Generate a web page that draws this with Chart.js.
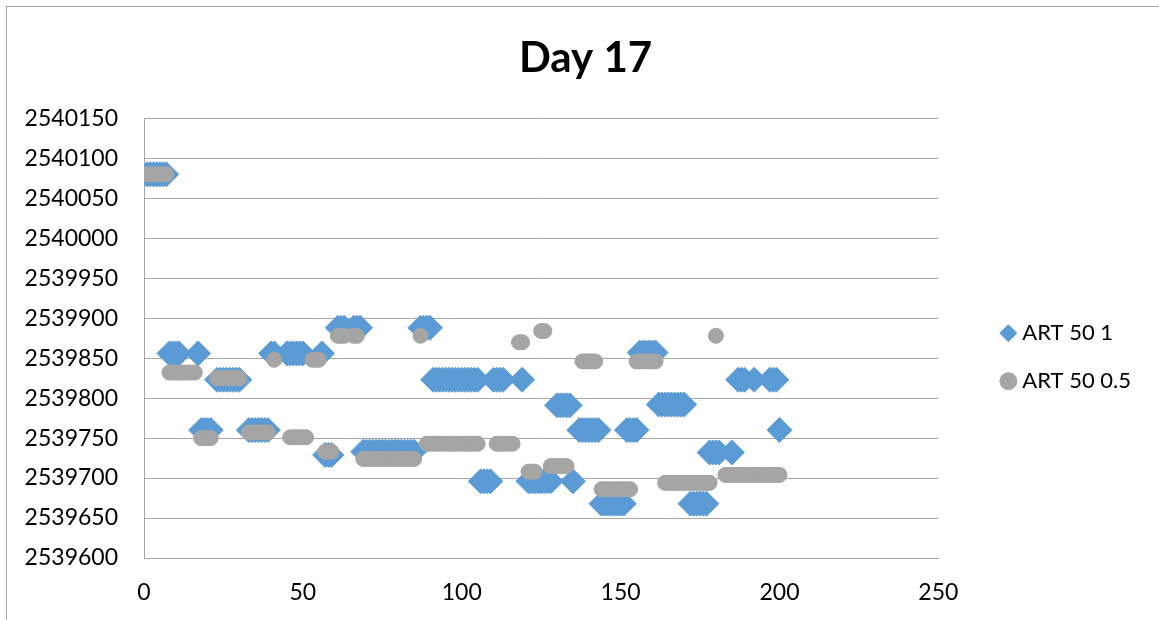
<!DOCTYPE html>
<html>
<head>
<meta charset="utf-8">
<title>Day 17</title>
<script src="https://cdn.jsdelivr.net/npm/chart.js@4.4.1/dist/chart.umd.min.js"></script>
<style>
    html, body { margin: 0; padding: 0; background: #fff; overflow: hidden; }
    #wrap { position: relative; width: 1159px; height: 620px; }
    #frame {
        position: absolute; left: 6px; top: 6px; width: 1160px; height: 620px;
        border-left: 1px solid #a6a6a6; border-top: 1px solid #a6a6a6;
        pointer-events: none;
    }
</style>
</head>
<body>
<div id="wrap">
    <canvas id="chart"></canvas>
    <div id="frame"></div>
</div>
<script>
// Series
const seriesNames = ['ART 50 1', 'ART 50 0.5'];

const blueX = [
    1, 2, 3, 4, 5, 6, 7,
    8, 9, 10, 11,
    17,
    18, 19, 20, 21,
    23, 24, 25, 26, 27, 28, 29, 30,
    33, 34, 35, 36, 37, 38, 39,
    40, 41,
    45, 46, 47, 48, 49, 50,
    56,
    57, 58, 59,
    61, 62, 63, 66, 67, 68,
    69, 70, 71, 72, 73, 74, 75, 76, 77, 78, 79, 80, 81, 82, 83, 84, 85,
    87, 88, 89, 90,
    91, 92, 93, 94, 95, 96, 97, 98, 99, 100, 101, 102, 103, 104, 105,
    106, 107, 108, 109,
    110, 111, 112, 113,
    119,
    121, 122, 123, 124, 125, 126, 127, 128,
    130, 131, 132, 133, 134,
    135,
    137, 138, 139, 140, 141, 142, 143,
    144, 145, 146, 147, 148, 149, 150, 151,
    152, 153, 154, 155,
    156, 157, 158, 159, 160, 161,
    162, 163, 164, 165, 166, 167, 168, 169, 170,
    172, 173, 174, 175, 176, 177,
    178, 179, 180, 181,
    185,
    187, 188, 189, 192, 197, 198, 199,
    200
];
const blueY = [
    2540080, 2540080, 2540080, 2540080, 2540080, 2540080, 2540080,
    2539856, 2539856, 2539856, 2539856,
    2539856,
    2539760, 2539760, 2539760, 2539760,
    2539823, 2539823, 2539823, 2539823, 2539823, 2539823, 2539823, 2539823,
    2539760, 2539760, 2539760, 2539760, 2539760, 2539760, 2539760,
    2539856, 2539856,
    2539856, 2539856, 2539856, 2539856, 2539856, 2539856,
    2539856,
    2539729, 2539729, 2539729,
    2539888, 2539888, 2539888, 2539888, 2539888, 2539888,
    2539733, 2539733, 2539733, 2539733, 2539733, 2539733, 2539733, 2539733, 2539733,
    2539733, 2539733, 2539733, 2539733, 2539733, 2539733, 2539733, 2539733,
    2539888, 2539888, 2539888, 2539888,
    2539823, 2539823, 2539823, 2539823, 2539823, 2539823, 2539823, 2539823,
    2539823, 2539823, 2539823, 2539823, 2539823, 2539823, 2539823,
    2539696, 2539696, 2539696, 2539696,
    2539823, 2539823, 2539823, 2539823,
    2539823,
    2539696, 2539696, 2539696, 2539696, 2539696, 2539696, 2539696, 2539696,
    2539791, 2539791, 2539791, 2539791, 2539791,
    2539696,
    2539760, 2539760, 2539760, 2539760, 2539760, 2539760, 2539760,
    2539668, 2539668, 2539668, 2539668, 2539668, 2539668, 2539668, 2539668,
    2539760, 2539760, 2539760, 2539760,
    2539857, 2539857, 2539857, 2539857, 2539857, 2539857,
    2539792, 2539792, 2539792, 2539792, 2539792, 2539792, 2539792, 2539792, 2539792,
    2539668, 2539668, 2539668, 2539668, 2539668, 2539668,
    2539732, 2539732, 2539732, 2539732,
    2539732,
    2539823, 2539823, 2539823, 2539823, 2539823, 2539823, 2539823,
    2539760
];

const grayX = [
    1, 2, 3, 4, 5, 6, 7,
    8, 9, 10, 11, 12, 13, 14, 15, 16,
    18, 19, 20, 21,
    23, 24, 25, 26, 27, 28, 29, 30,
    33, 34, 35, 36, 37, 38, 39,
    41,
    46, 47, 48, 49, 50, 51,
    53, 54, 55,
    57, 58, 59,
    61, 62, 63, 66, 67,
    69, 70, 71, 72, 73, 74, 75, 76, 77, 78, 79, 80, 81, 82, 83, 84, 85,
    87,
    89, 90, 91, 92, 93, 94, 95, 96, 97, 98, 99, 100, 101, 102, 103, 104, 105,
    111, 112, 113, 114, 115, 116,
    118, 119,
    121, 122, 123,
    125, 126,
    128, 129, 130, 131, 132, 133,
    138, 139, 140, 141, 142,
    144, 145, 146, 147, 148, 149, 150, 151, 152, 153,
    155, 156, 157, 158, 159, 160, 161,
    164, 165, 166, 167, 168, 169, 170, 171, 172, 173, 174, 175, 176, 177, 178,
    180,
    183, 184, 185, 186, 187, 188, 189, 190, 191, 192, 193, 194, 195, 196, 197, 198, 199, 200
];
const grayY = [
    2540080, 2540080, 2540080, 2540080, 2540080, 2540080, 2540080,
    2539832, 2539832, 2539832, 2539832, 2539832, 2539832, 2539832, 2539832, 2539832,
    2539750, 2539750, 2539750, 2539750,
    2539825, 2539825, 2539825, 2539825, 2539825, 2539825, 2539825, 2539825,
    2539757, 2539757, 2539757, 2539757, 2539757, 2539757, 2539757,
    2539848,
    2539751, 2539751, 2539751, 2539751, 2539751, 2539751,
    2539848, 2539848, 2539848,
    2539733, 2539733, 2539733,
    2539878, 2539878, 2539878, 2539878, 2539878,
    2539724, 2539724, 2539724, 2539724, 2539724, 2539724, 2539724, 2539724, 2539724,
    2539724, 2539724, 2539724, 2539724, 2539724, 2539724, 2539724, 2539724,
    2539878,
    2539743, 2539743, 2539743, 2539743, 2539743, 2539743, 2539743, 2539743, 2539743,
    2539743, 2539743, 2539743, 2539743, 2539743, 2539743, 2539743, 2539743,
    2539743, 2539743, 2539743, 2539743, 2539743, 2539743,
    2539870, 2539870,
    2539708, 2539708, 2539708,
    2539884, 2539884,
    2539715, 2539715, 2539715, 2539715, 2539715, 2539715,
    2539846, 2539846, 2539846, 2539846, 2539846,
    2539686, 2539686, 2539686, 2539686, 2539686, 2539686, 2539686, 2539686, 2539686, 2539686,
    2539846, 2539846, 2539846, 2539846, 2539846, 2539846, 2539846,
    2539694, 2539694, 2539694, 2539694, 2539694, 2539694, 2539694, 2539694,
    2539694, 2539694, 2539694, 2539694, 2539694, 2539694, 2539694,
    2539878,
    2539704, 2539704, 2539704, 2539704, 2539704, 2539704, 2539704, 2539704, 2539704,
    2539704, 2539704, 2539704, 2539704, 2539704, 2539704, 2539704, 2539704, 2539704
];

// Axis ranges and tick steps
const xMin = 0, xMax = 250, xStep = 50;
const yMin = 2539600, yMax = 2540150, yStep = 50;

const blueColor = '#5b9bd5';
const grayColor = '#a5a5a5';
const gridColor = '#a6a6a6';

function toPoints(xs, ys) {
    return xs.map((x, i) => ({ x: x, y: ys[i] }));
}

// the Excel title sits a bit right of the canvas centre
const titleShift = {
    id: 'titleShift',
    afterLayout(chart) {
        chart.titleBlock.left += 15;
        chart.titleBlock.right += 15;
    }
};

Chart.defaults.font.family = 'Lato, "Open Sans", sans-serif';
Chart.defaults.color = '#000';

const ctx = document.getElementById('chart').getContext('2d');
new Chart(ctx, {
    type: 'scatter',
    data: {
        datasets: [{
            label: seriesNames[0],
            data: toPoints(blueX, blueY),
            pointStyle: 'rectRot',
            pointRadius: 12.5,
            backgroundColor: blueColor,
            borderColor: blueColor,
            borderWidth: 1,
            order: 1
        }, {
            label: seriesNames[1],
            data: toPoints(grayX, grayY),
            pointStyle: 'circle',
            pointRadius: 7.5,
            backgroundColor: grayColor,
            borderColor: grayColor,
            borderWidth: 1,
            order: 0
        }]
    },
    plugins: [titleShift],
    options: {
        responsive: true,
        maintainAspectRatio: false,
        animation: false,
        events: [],
        layout: { padding: { left: 0, top: 0, right: 18, bottom: 0 } },
        plugins: {
            title: {
                display: true,
                text: 'Day 17',
                color: '#000',
                font: { size: 42, weight: 'bold' },
                padding: { top: 33, bottom: 35 }
            },
            legend: {
                display: true,
                position: 'right',
                fullSize: false,
                // empty title only keeps the entries level with the reference
                title: { display: true, text: '', padding: 0, font: { size: 31.67 } },
                labels: {
                    usePointStyle: true,
                    boxWidth: 6,
                    boxHeight: 12,
                    padding: 26,
                    color: '#000',
                    font: { size: 22 },
                    sort: (a, b) => a.datasetIndex - b.datasetIndex
                }
            },
            tooltip: { enabled: false }
        },
        scales: {
            x: {
                type: 'linear',
                min: xMin,
                max: xMax,
                ticks: { stepSize: xStep, padding: 21, font: { size: 23 } },
                grid: { display: false, drawTicks: false },
                border: { display: true, color: gridColor },
                afterFit: (s) => { s.height = 62; }
            },
            y: {
                type: 'linear',
                min: yMin,
                max: yMax,
                ticks: {
                    stepSize: yStep,
                    padding: 26,
                    font: { size: 23 },
                    callback: (v) => String(v)
                },
                grid: { color: gridColor, drawTicks: false },
                border: { display: true, color: gridColor },
                afterFit: (s) => { s.width = 144; }
            },
            // empty box between the plot and the legend
            gap: {
                type: 'linear',
                position: 'right',
                display: true,
                ticks: { display: false },
                grid: { display: false, drawTicks: false },
                border: { display: false },
                afterFit: (s) => { s.width = 41; }
            }
        }
    }
});
</script>
</body>
</html>
